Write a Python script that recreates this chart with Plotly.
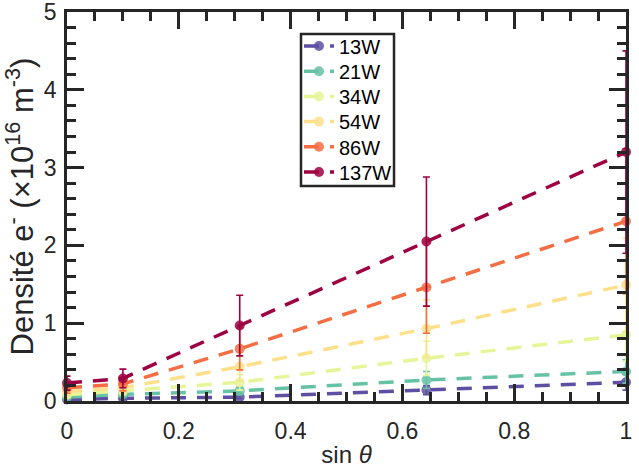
import plotly.graph_objects as go

sin_theta = [0.0, 0.1, 0.309, 0.643, 1.0]
labels = ["13W", "21W", "34W", "54W", "86W", "137W"]
colors = ["#5e4fa2", "#66c2a5", "#e6f598", "#fee08b", "#f46d43", "#9e0142"]

dens_13W = [0.02, 0.035, 0.05, 0.14, 0.24]
dens_21W = [0.05, 0.085, 0.13, 0.27, 0.38]
dens_34W = [0.08, 0.13, 0.24, 0.55, 0.85]
dens_54W = [0.12, 0.17, 0.44, 0.93, 1.49]
dens_86W = [0.17, 0.22, 0.67, 1.46, 2.31]
dens_137W = [0.23, 0.29, 0.97, 2.05, 3.20]

err_13W = [0.01, 0.01, 0.02, 0.06, 0.10]
err_21W = [0.02, 0.03, 0.05, 0.11, 0.15]
err_34W = [0.03, 0.05, 0.10, 0.22, 0.34]
err_54W = [0.05, 0.07, 0.18, 0.37, 0.60]
err_86W = [0.07, 0.09, 0.27, 0.59, 0.93]
err_137W = [0.09, 0.12, 0.39, 0.83, 1.30]

series = [dens_13W, dens_21W, dens_34W, dens_54W, dens_86W, dens_137W]
errors = [err_13W, err_21W, err_34W, err_54W, err_86W, err_137W]

axis_col = "#262626"
font_family = "Liberation Sans, Arial, sans-serif"

# legend layout (paper coordinates of the plot area)
leg_box = dict(x0=0.4186, x1=0.585, y0=0.5527, y1=0.9434)
leg_first_y = 0.9126
leg_step = 0.0648
leg_x = 0.415

fig = go.Figure()
legend_layouts = {}
for i, (name, col, y, e) in enumerate(zip(labels, colors, series, errors)):
    lname = "legend" if i == 0 else f"legend{i + 1}"
    fig.add_trace(go.Scatter(
        x=sin_theta, y=y, name=name, mode="lines+markers",
        line=dict(color=col, width=3.5, dash="15px,11px"),
        marker=dict(color=col, size=10, opacity=0.85),
        error_y=dict(type="data", array=e, visible=True, color=col,
                     thickness=1.6, width=3.5),
        cliponaxis=False,
        legend=lname,
    ))
    legend_layouts[lname] = dict(
        x=leg_x, y=leg_first_y - i * leg_step, xanchor="left", yanchor="middle",
        bgcolor="rgba(0,0,0,0)", borderwidth=0,
        font=dict(family=font_family, size=20, color="black"),
        itemwidth=30,
    )

common = dict(
    showline=True, linecolor=axis_col, linewidth=2.5, mirror="allticks",
    ticks="inside", ticklen=17, tickwidth=2.5, tickcolor=axis_col,
    showgrid=False, zeroline=False, automargin=False, ticklabeloverflow="allow",
    tickfont=dict(family=font_family, size=23, color=axis_col),
)

fig.update_xaxes(
    range=[0, 1], tickvals=[0, 0.2, 0.4, 0.6, 0.8, 1],
    ticktext=["0", "0.2", "0.4", "0.6", "0.8", "1"],
    minor=dict(dtick=0.05, ticklen=9, tickwidth=2.5, tickcolor=axis_col, ticks="inside"),
    ticklabelstandoff=8,
    title=dict(text="sin <i>θ</i>", font=dict(family=font_family, size=24, color=axis_col), standoff=4),
    **common,
)
fig.update_yaxes(
    range=[0, 5], tickvals=[0, 1, 2, 3, 4, 5],
    minor=dict(dtick=0.2, ticklen=9, tickwidth=2.5, tickcolor=axis_col, ticks="inside"),
    ticklabelstandoff=3,
    title=dict(text="\u00a0\u00a0\u00a0\u00a0\u00a0\u00a0Densité e<sup>-</sup> (×10<sup>16</sup> m<sup>-3</sup>)",
               font=dict(family=font_family, size=31, color=axis_col), standoff=2),
    **common,
)

fig.add_shape(type="rect", xref="paper", yref="paper", layer="above",
              fillcolor="white", line=dict(color=axis_col, width=2.5), **leg_box)

fig.update_layout(
    width=639, height=468,
    margin=dict(l=67, r=13, t=12, b=67),
    plot_bgcolor="white", paper_bgcolor="white",
    font=dict(family=font_family, size=20, color=axis_col),
    showlegend=True,
    **legend_layouts,
)

fig.write_html("out.html", config={"displayModeBar": False},
               post_script="document.body.style.margin='0px';")
